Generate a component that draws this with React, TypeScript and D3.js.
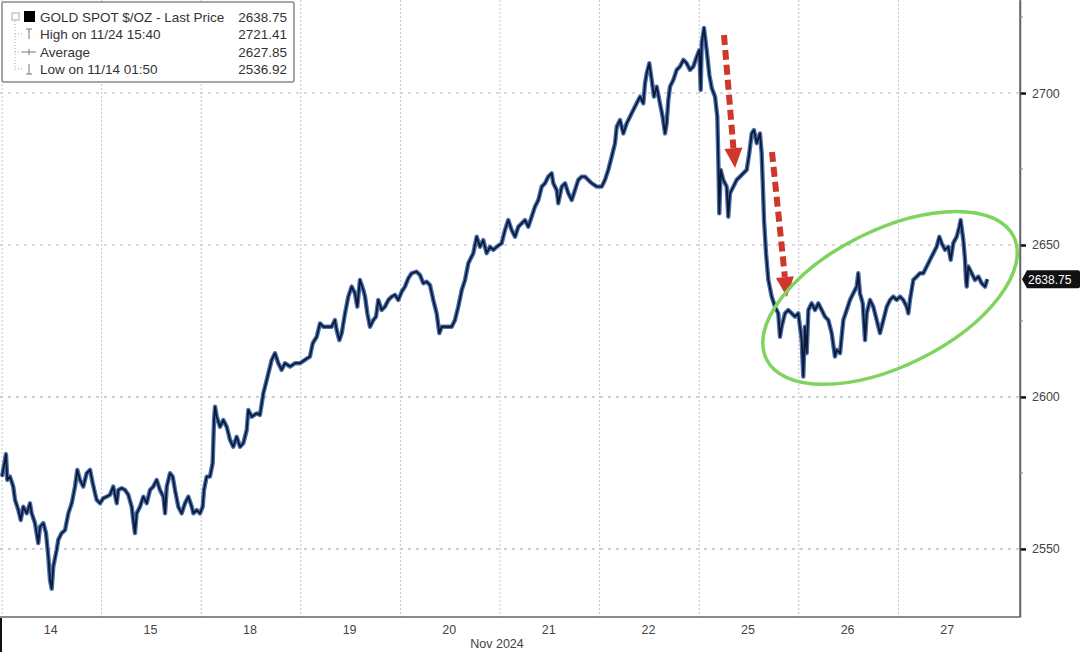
import React, { useEffect, useRef } from 'react';
import * as d3 from 'd3';

// Trading-day labels along the bottom (one session per label)
const dayLabels = ['14', '15', '18', '19', '20', '21', '22', '25', '26', '27'];
const axisTitle = 'Nov 2024';

// Price axis ticks
const priceTicks = [2550, 2600, 2650, 2700];
const minorPriceTicks = [2575, 2625, 2675, 2725];

// Legend rows
const legendLabels = ['GOLD SPOT $/OZ - Last Price', 'High on 11/24 15:40', 'Average', 'Low on 11/14 01:50'];
const legendValues = ['2638.75', '2721.41', '2627.85', '2536.92'];
const lastPrice = 2638.75;

// [session day offset, price]
const goldSeries: [number, number][] = [
  [0.000, 2573.8], [0.040, 2581.2], [0.053, 2572.7], [0.080, 2573.8], [0.113, 2570.5], [0.131, 2566.1],
  [0.164, 2562.8], [0.188, 2559.5], [0.214, 2563.9], [0.248, 2561.7], [0.281, 2565.0], [0.298, 2561.7],
  [0.331, 2558.5], [0.364, 2551.9], [0.382, 2557.3], [0.415, 2558.5], [0.442, 2555.2], [0.465, 2547.5],
  [0.482, 2539.8], [0.499, 2536.9], [0.515, 2544.2], [0.549, 2549.7], [0.565, 2553.0], [0.599, 2555.2],
  [0.633, 2556.2], [0.666, 2561.7], [0.700, 2565.0], [0.733, 2570.5], [0.756, 2576.0], [0.783, 2572.7],
  [0.816, 2570.5], [0.850, 2574.9], [0.884, 2576.0], [0.911, 2571.6], [0.934, 2568.3], [0.951, 2566.1],
  [0.984, 2565.0], [1.017, 2566.7], [1.051, 2567.2], [1.084, 2567.8], [1.117, 2570.5], [1.152, 2565.0],
  [1.168, 2569.4], [1.202, 2570.0], [1.235, 2569.4], [1.268, 2567.8], [1.302, 2563.9], [1.318, 2559.5],
  [1.335, 2555.2], [1.352, 2561.7], [1.386, 2563.9], [1.419, 2567.2], [1.453, 2565.0], [1.486, 2569.4],
  [1.519, 2570.5], [1.553, 2572.7], [1.586, 2569.4], [1.620, 2567.2], [1.637, 2561.7], [1.654, 2570.5],
  [1.687, 2574.9], [1.714, 2573.8], [1.737, 2569.4], [1.770, 2563.9], [1.804, 2561.7], [1.837, 2565.0],
  [1.871, 2567.2], [1.905, 2563.9], [1.921, 2561.7], [1.955, 2562.8], [1.988, 2561.7], [2.015, 2563.9],
  [2.028, 2569.4], [2.055, 2573.8], [2.088, 2573.8], [2.115, 2578.2], [2.129, 2592.4], [2.139, 2596.8],
  [2.156, 2593.5], [2.189, 2590.2], [2.222, 2592.4], [2.256, 2590.2], [2.289, 2585.9], [2.322, 2583.6],
  [2.356, 2586.9], [2.390, 2583.6], [2.423, 2584.8], [2.457, 2589.1], [2.473, 2595.7], [2.507, 2593.5],
  [2.557, 2594.6], [2.590, 2594.1], [2.624, 2601.2], [2.658, 2605.6], [2.708, 2612.2], [2.741, 2614.4],
  [2.774, 2611.1], [2.808, 2608.9], [2.841, 2611.1], [2.892, 2610.0], [2.942, 2611.1], [2.992, 2611.1],
  [3.042, 2612.2], [3.092, 2613.3], [3.120, 2617.7], [3.160, 2619.8], [3.193, 2624.2], [3.226, 2623.1],
  [3.260, 2623.1], [3.310, 2623.1], [3.343, 2625.3], [3.360, 2622.0], [3.387, 2618.7], [3.411, 2621.0],
  [3.444, 2627.5], [3.477, 2633.0], [3.511, 2636.3], [3.544, 2634.1], [3.567, 2629.7], [3.594, 2638.5],
  [3.628, 2635.2], [3.645, 2633.0], [3.668, 2627.5], [3.695, 2623.1], [3.728, 2625.3], [3.755, 2626.4],
  [3.778, 2631.9], [3.812, 2628.6], [3.845, 2629.7], [3.879, 2631.9], [3.913, 2633.0], [3.946, 2633.6],
  [3.979, 2631.9], [4.013, 2634.6], [4.046, 2636.3], [4.079, 2639.0], [4.113, 2640.7], [4.163, 2641.2],
  [4.197, 2640.1], [4.230, 2637.4], [4.264, 2637.9], [4.297, 2636.8], [4.330, 2631.9], [4.364, 2627.5],
  [4.391, 2621.0], [4.415, 2623.1], [4.465, 2623.1], [4.515, 2623.1], [4.548, 2625.3], [4.581, 2629.7],
  [4.616, 2635.2], [4.649, 2638.5], [4.682, 2644.0], [4.732, 2647.3], [4.766, 2652.7], [4.799, 2649.4],
  [4.832, 2651.6], [4.866, 2647.3], [4.900, 2649.4], [4.933, 2648.4], [4.967, 2649.4], [5.017, 2650.6],
  [5.050, 2654.9], [5.083, 2658.2], [5.117, 2654.9], [5.151, 2652.7], [5.184, 2656.0], [5.218, 2657.1],
  [5.251, 2658.2], [5.284, 2656.0], [5.318, 2659.3], [5.351, 2662.6], [5.385, 2664.8], [5.419, 2669.2],
  [5.452, 2670.3], [5.485, 2672.5], [5.519, 2673.6], [5.535, 2670.3], [5.569, 2668.1], [5.585, 2663.7],
  [5.620, 2669.2], [5.653, 2670.3], [5.686, 2667.0], [5.720, 2664.8], [5.753, 2668.1], [5.786, 2671.4],
  [5.820, 2672.5], [5.853, 2672.5], [5.886, 2671.4], [5.921, 2670.3], [5.971, 2669.2], [6.021, 2669.2],
  [6.054, 2671.4], [6.087, 2674.7], [6.121, 2679.0], [6.155, 2683.5], [6.172, 2688.9], [6.205, 2691.1],
  [6.238, 2686.7], [6.272, 2690.0], [6.305, 2692.2], [6.338, 2694.4], [6.372, 2696.6], [6.406, 2698.8],
  [6.439, 2696.6], [6.456, 2703.2], [6.473, 2706.5], [6.499, 2709.8], [6.523, 2704.3], [6.546, 2698.8],
  [6.573, 2702.1], [6.606, 2696.6], [6.633, 2692.2], [6.657, 2686.7], [6.673, 2690.0], [6.690, 2697.7],
  [6.707, 2702.1], [6.740, 2704.3], [6.774, 2707.6], [6.807, 2708.7], [6.841, 2710.9], [6.874, 2709.8],
  [6.908, 2707.6], [6.941, 2708.7], [6.975, 2711.9], [7.001, 2714.1], [7.015, 2701.0], [7.025, 2716.3],
  [7.048, 2721.4], [7.075, 2714.1], [7.102, 2705.9], [7.126, 2701.6], [7.159, 2698.8], [7.182, 2692.2],
  [7.192, 2678.0], [7.202, 2660.4], [7.216, 2674.7], [7.242, 2671.4], [7.276, 2669.2], [7.292, 2659.3],
  [7.309, 2667.0], [7.343, 2669.2], [7.376, 2671.4], [7.410, 2672.5], [7.443, 2673.6], [7.477, 2674.7],
  [7.503, 2680.2], [7.527, 2686.7], [7.550, 2687.8], [7.577, 2683.5], [7.610, 2686.7], [7.627, 2680.2],
  [7.637, 2671.4], [7.651, 2658.2], [7.671, 2647.3], [7.694, 2638.5], [7.728, 2633.0], [7.761, 2629.7],
  [7.794, 2627.5], [7.811, 2619.8], [7.828, 2623.1], [7.861, 2627.5], [7.894, 2628.6], [7.929, 2627.5],
  [7.962, 2626.4], [7.995, 2627.5], [8.029, 2618.7], [8.045, 2606.7], [8.062, 2623.1], [8.079, 2614.4],
  [8.096, 2628.6], [8.129, 2630.8], [8.163, 2628.6], [8.196, 2630.8], [8.230, 2628.6], [8.263, 2626.4],
  [8.296, 2625.3], [8.330, 2621.0], [8.363, 2613.3], [8.380, 2615.5], [8.414, 2614.4], [8.447, 2625.3],
  [8.481, 2628.6], [8.514, 2631.9], [8.547, 2634.1], [8.581, 2636.3], [8.597, 2640.7], [8.614, 2634.1],
  [8.642, 2630.8], [8.665, 2618.7], [8.682, 2627.5], [8.715, 2631.9], [8.748, 2629.7], [8.782, 2625.3],
  [8.815, 2621.0], [8.849, 2625.3], [8.883, 2629.7], [8.916, 2631.9], [8.949, 2633.0], [8.983, 2631.9],
  [9.016, 2633.0], [9.049, 2631.9], [9.083, 2629.7], [9.100, 2627.5], [9.116, 2631.9], [9.150, 2638.5],
  [9.184, 2639.6], [9.217, 2640.7], [9.250, 2640.7], [9.284, 2642.9], [9.317, 2645.1], [9.351, 2647.3],
  [9.384, 2649.4], [9.411, 2652.7], [9.434, 2650.6], [9.468, 2648.4], [9.501, 2649.4], [9.525, 2645.1],
  [9.551, 2650.6], [9.585, 2652.7], [9.612, 2656.0], [9.625, 2658.2], [9.652, 2651.6], [9.669, 2645.1],
  [9.679, 2638.5], [9.686, 2636.3], [9.702, 2642.9], [9.736, 2640.7], [9.769, 2638.5], [9.803, 2639.6],
  [9.836, 2637.4], [9.870, 2636.3], [9.893, 2638.75],
];

// Annotation anchors in data units: [day offset, price]
const dropArrows: [number, number, number, number][] = [
  [7.249, 2719.1, 7.360, 2675.3],
  [7.731, 2680.6, 7.881, 2632.9],
];
const consolidationCenter: [number, number] = [8.916, 2632.6];

const FONT = '"Liberation Sans", Arial, sans-serif';

export default function App() {
  const chartRef = useRef<SVGSVGElement>(null);

  useEffect(() => {
    if (!chartRef.current) return;
    const svg = d3.select(chartRef.current);
    svg.selectAll('*').remove();

    const width = 1080;
    const height = 652;
    const plotRight = 1020;
    const plotBottom = 617;

    const x = d3.scaleLinear().domain([0, 10]).range([2, 998]);
    const y = d3.scaleLinear().domain([2527.6, 2730.6]).range([plotBottom, 0]);

    svg.append('rect').attr('width', width).attr('height', height).attr('fill', '#ffffff');

    svg.append('defs').append('clipPath').attr('id', 'plot-clip')
      .append('rect').attr('x', 0).attr('y', 0).attr('width', plotRight).attr('height', plotBottom);

    // Grid
    svg.append('g').selectAll('line')
      .data(priceTicks)
      .enter().append('line')
      .attr('x1', 0).attr('x2', plotRight)
      .attr('y1', d => y(d)).attr('y2', d => y(d))
      .attr('stroke', '#b5b5b5').attr('stroke-width', 1.2)
      .attr('stroke-dasharray', '3,5');

    svg.append('g').selectAll('line')
      .data(d3.range(0, dayLabels.length))
      .enter().append('line')
      .attr('x1', d => x(d)).attr('x2', d => x(d))
      .attr('y1', 0).attr('y2', plotBottom)
      .attr('stroke', '#c4c4c4').attr('stroke-width', 1)
      .attr('stroke-dasharray', '2,2');

    // Price trace: blue body with a dark core
    const line = d3.line<[number, number]>()
      .x(d => x(d[0]))
      .y(d => y(d[1]));

    const plot = svg.append('g').attr('clip-path', 'url(#plot-clip)');
    plot.append('path')
      .datum(goldSeries)
      .attr('d', line)
      .attr('fill', 'none')
      .attr('stroke', '#4872b4')
      .attr('stroke-width', 4.4)
      .attr('stroke-linejoin', 'round');
    plot.append('path')
      .datum(goldSeries)
      .attr('d', line)
      .attr('fill', 'none')
      .attr('stroke', '#0f182e')
      .attr('stroke-width', 1.8)
      .attr('stroke-linejoin', 'round');

    // Red dashed arrows
    const red = '#d0362b';
    dropArrows.forEach(([t0, p0, t1, p1]) => {
      const x0 = x(t0), y0 = y(p0), x1 = x(t1), y1 = y(p1);
      const ang = Math.atan2(y1 - y0, x1 - x0);
      const headLen = 20;
      const headHalf = 9;
      const bx = x1 - headLen * Math.cos(ang);
      const by = y1 - headLen * Math.sin(ang);
      svg.append('line')
        .attr('x1', x0).attr('y1', y0).attr('x2', bx).attr('y2', by)
        .attr('stroke', red).attr('stroke-width', 6)
        .attr('stroke-dasharray', '10,5');
      const px = -Math.sin(ang), py = Math.cos(ang);
      svg.append('path')
        .attr('d', `M${x1},${y1}L${bx + px * headHalf},${by + py * headHalf}L${bx - px * headHalf},${by - py * headHalf}Z`)
        .attr('fill', red);
    });

    // Green ellipse around the consolidation
    svg.append('ellipse')
      .attr('cx', 0).attr('cy', 0).attr('rx', 138).attr('ry', 68)
      .attr('transform', `translate(${x(consolidationCenter[0])},${y(consolidationCenter[1])}) rotate(-26.4)`)
      .attr('fill', 'none')
      .attr('stroke', '#7fd35e')
      .attr('stroke-width', 3.5);

    // Bottom axis line
    svg.append('line')
      .attr('x1', 0).attr('x2', plotRight)
      .attr('y1', plotBottom).attr('y2', plotBottom)
      .attr('stroke', '#666').attr('stroke-width', 1.5);

    // Right axis
    const yAxis = svg.append('g')
      .attr('transform', `translate(${plotRight},0)`)
      .call(d3.axisRight(y).tickValues(priceTicks).tickSize(6).tickSizeOuter(0).tickPadding(6).tickFormat(d3.format('d')));
    yAxis.select('.domain').attr('stroke', '#666').attr('stroke-width', 1.5);
    yAxis.selectAll('.tick line').attr('stroke', '#111').attr('stroke-width', 2.5);
    yAxis.selectAll('.tick text')
      .attr('font-family', FONT).attr('font-size', 12.5).attr('fill', '#444');
    yAxis.append('line')
      .attr('x1', 0).attr('x2', 0).attr('y1', 0).attr('y2', plotBottom)
      .attr('stroke', '#666').attr('stroke-width', 1.5);

    svg.append('g').selectAll('line')
      .data(minorPriceTicks)
      .enter().append('line')
      .attr('x1', plotRight).attr('x2', plotRight + 3)
      .attr('y1', d => y(d)).attr('y2', d => y(d))
      .attr('stroke', '#888').attr('stroke-width', 1);

    // Last price tag
    const ty = y(lastPrice);
    svg.append('path')
      .attr('d', `M${plotRight + 2},${ty}L${plotRight + 7},${ty - 9}H${1078}Q${1080},${ty - 9} ${1080},${ty - 7}V${ty + 7}Q${1080},${ty + 9} ${1078},${ty + 9}H${plotRight + 7}Z`)
      .attr('fill', '#111');
    svg.append('text')
      .attr('x', plotRight + 8).attr('y', ty + 4.5)
      .attr('font-family', FONT).attr('font-size', 12).attr('fill', '#fff')
      .text(lastPrice.toFixed(2));

    // Day labels
    svg.append('g').selectAll('text')
      .data(dayLabels)
      .enter().append('text')
      .attr('x', (_, i) => x(i + 0.5) - 1)
      .attr('y', 634)
      .attr('text-anchor', 'middle')
      .attr('font-family', FONT).attr('font-size', 12.5).attr('fill', '#444')
      .text(d => d);

    svg.append('text')
      .attr('x', 497).attr('y', 648)
      .attr('text-anchor', 'middle')
      .attr('font-family', FONT).attr('font-size', 12.5).attr('fill', '#444')
      .text(axisTitle);

    svg.append('rect').attr('x', 0).attr('y', 618).attr('width', 2).attr('height', 34).attr('fill', '#111');

    // Legend
    const legend = svg.append('g');
    legend.append('rect')
      .attr('x', 2).attr('y', 2).attr('width', 292).attr('height', 80).attr('rx', 2)
      .attr('fill', '#fff').attr('stroke', '#8a8a8a').attr('stroke-width', 1.5);

    const rowY = [17, 34, 52, 69];
    legend.append('line')
      .attr('x1', 15).attr('x2', 15).attr('y1', rowY[0] + 4).attr('y2', rowY[3])
      .attr('stroke', '#aaa').attr('stroke-dasharray', '1,2');
    rowY.slice(1).forEach(ry => {
      legend.append('line')
        .attr('x1', 15).attr('x2', 22).attr('y1', ry).attr('y2', ry)
        .attr('stroke', '#aaa').attr('stroke-dasharray', '1,2');
    });
    legend.append('rect').attr('x', 12).attr('y', 13).attr('width', 7).attr('height', 7)
      .attr('fill', '#fff').attr('stroke', '#aaa');
    legend.append('rect').attr('x', 24).attr('y', 11).attr('width', 11).attr('height', 11).attr('fill', '#000');

    const iconStroke = '#777';
    // high marker
    legend.append('path').attr('d', `M26,${rowY[1] - 5}H32M29,${rowY[1] - 5}V${rowY[1] + 5}`)
      .attr('stroke', iconStroke).attr('fill', 'none');
    // average marker
    legend.append('path').attr('d', `M22,${rowY[2]}H36M29,${rowY[2] - 3}V${rowY[2] + 3}`)
      .attr('stroke', iconStroke).attr('fill', 'none');
    // low marker
    legend.append('path').attr('d', `M29,${rowY[3] - 5}V${rowY[3] + 5}M26,${rowY[3] + 5}H32`)
      .attr('stroke', iconStroke).attr('fill', 'none');

    legendLabels.forEach((label, i) => {
      legend.append('text')
        .attr('x', 40).attr('y', rowY[i] + 4.5)
        .attr('font-family', FONT).attr('font-size', 13.5).attr('fill', '#333')
        .text(label);
      legend.append('text')
        .attr('x', 287).attr('y', rowY[i] + 4.5)
        .attr('text-anchor', 'end')
        .attr('font-family', FONT).attr('font-size', 13.5).attr('fill', '#333')
        .text(legendValues[i]);
    });
  }, []);

  return (
    <svg
      ref={chartRef}
      width={1080}
      height={652}
      style={{ position: 'absolute', left: 0, top: 0, display: 'block' }}
    />
  );
}
